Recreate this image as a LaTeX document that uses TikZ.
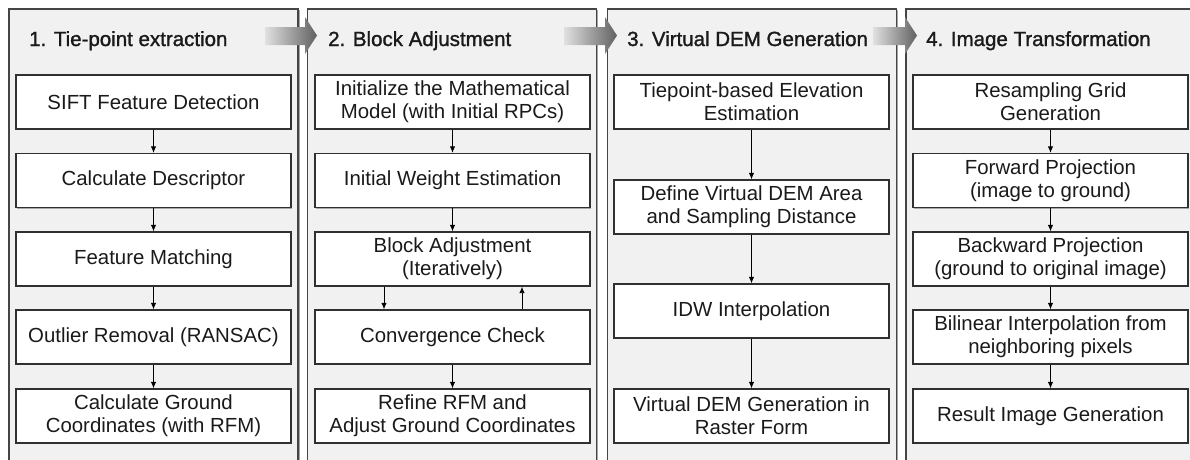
\documentclass[tikz,border=0pt]{standalone}
\usepackage{fontspec}
\setmainfont{Liberation Sans}
\newfontfamily\titlefont[FakeBold=1.4]{Liberation Sans}
\newfontfamily\bodyfont{Liberation Sans}
\usetikzlibrary{arrows.meta,shadows}
\definecolor{panelfill}{HTML}{F1F1F1}
\definecolor{panelline}{HTML}{454545}
\definecolor{boxline}{HTML}{303030}
\definecolor{txt}{HTML}{1A1A1A}
\begin{document}
\begin{tikzpicture}[x=1pt,y=-1pt,
  panel/.style={draw=panelline, line width=1.7pt, fill=panelfill, minimum width=289pt, minimum height=471pt, inner sep=0pt,
    drop shadow={shadow xshift=1.6pt, shadow yshift=-1.2pt, fill=black, opacity=0.35}},
  stepbox/.style={draw=boxline, line width=1.3pt, fill=white, minimum width=275pt, minimum height=54pt, inner sep=0pt,
    align=center, text=txt, font=\bodyfont\fontsize{20.4pt}{23pt}\selectfont,
    drop shadow={shadow xshift=1.4pt, shadow yshift=-1.4pt, fill=black, opacity=0.3}},
  paneltitle/.style={anchor=base west, inner sep=0pt, text=txt, font=\titlefont\fontsize{20.5pt}{24pt}\selectfont},
  flow/.style={draw=black, line width=0.9pt, -{Latex[length=6.5pt,width=5.5pt]}},
  bigarrow/.style={left color=black!12, right color=black!62, draw=none}
]
\clip (0,0) rectangle (1190,459);
\fill[white] (0,0) rectangle (1190,459);

% panels
\node[panel] (p1) at (153.5,244.5) {};
\node[panel] (p2) at (452,244.5) {};
\node[panel] (p3) at (752,244.5) {};
\node[panel, minimum width=300pt] (p4) at (1056,244.5) {};

% titles
\node[paneltitle] (t1) at (29,46) {1. Tie-point extraction};
\node[paneltitle] (t2) at (328,46) {2. Block Adjustment};
\node[paneltitle] (t3) at (627,46) {3. Virtual DEM Generation};
\node[paneltitle] (t4) at (926,46) {4. Image Transformation};

% gradient arrows between panels
\shade[bigarrow] (265,27) -- (305,27) -- (305,17) -- (317,35.5) -- (305,54) -- (305,45) -- (265,45) -- cycle;
\shade[bigarrow] (564,27) -- (605,27) -- (605,17) -- (617,35.5) -- (605,54) -- (605,45) -- (564,45) -- cycle;
\shade[bigarrow] (873,27) -- (905,27) -- (905,17) -- (917,35.5) -- (905,54) -- (905,45) -- (873,45) -- cycle;

% panel 1
\node[stepbox] (a1) at (153.5,102) {SIFT Feature Detection};
\node[stepbox] (a2) at (153.5,180.5) {Calculate Descriptor};
\node[stepbox] (a3) at (153.5,259) {Feature Matching};
\node[stepbox] (a4) at (153.5,337) {Outlier Removal (RANSAC)};
\node[stepbox] (a5) at (153.5,416) {Calculate Ground\\Coordinates (with RFM)};

% panel 2
\node[stepbox] (b1) at (452.5,102) {Initialize the Mathematical\\Model (with Initial RPCs)};
\node[stepbox] (b2) at (452.5,180.5) {Initial Weight Estimation};
\node[stepbox] (b3) at (452.5,259) {Block Adjustment\\(Iteratively)};
\node[stepbox] (b4) at (452.5,337) {Convergence Check};
\node[stepbox] (b5) at (452.5,416) {Refine RFM and\\Adjust Ground Coordinates};

% panel 3
\node[stepbox] (c1) at (751.5,102) {Tiepoint-based Elevation\\Estimation};
\node[stepbox] (c2) at (751.5,207) {Define Virtual DEM Area\\and Sampling Distance};
\node[stepbox] (c3) at (751.5,311) {IDW Interpolation};
\node[stepbox] (c4) at (751.5,416) {Virtual DEM Generation in\\Raster Form};

% panel 4
\node[stepbox] (d1) at (1050.5,102) {Resampling Grid\\Generation};
\node[stepbox] (d2) at (1050.5,180.5) {Forward Projection\\(image to ground)};
\node[stepbox] (d3) at (1050.5,259) {Backward Projection\\(ground to original image)};
\node[stepbox] (d4) at (1050.5,337) {Bilinear Interpolation from\\neighboring pixels};
\node[stepbox] (d5) at (1050.5,416) {Result Image Generation};

% connectors
\draw[flow] (a1) -- (a2);
\draw[flow] (a2) -- (a3);
\draw[flow] (a3) -- (a4);
\draw[flow] (a4) -- (a5);

\draw[flow] (b1) -- (b2);
\draw[flow] (b2) -- (b3);
\draw[flow] ([xshift=-68.5pt]b3.south) -- ([xshift=-68.5pt]b4.north);
\draw[flow] ([xshift=69.5pt]b4.north) -- ([xshift=69.5pt]b3.south);
\draw[flow] (b4) -- (b5);

\draw[flow] (c1) -- (c2);
\draw[flow] (c2) -- (c3);
\draw[flow] (c3) -- (c4);

\draw[flow] (d1) -- (d2);
\draw[flow] (d2) -- (d3);
\draw[flow] (d3) -- (d4);
\draw[flow] (d4) -- (d5);
\end{tikzpicture}
\end{document}
